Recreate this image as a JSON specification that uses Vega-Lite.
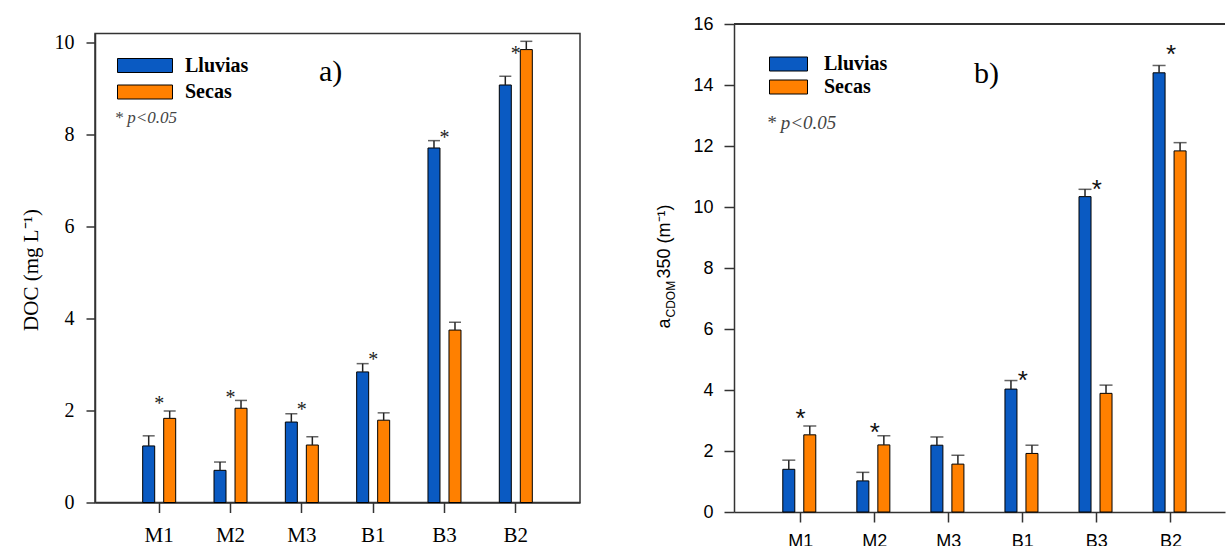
{
  "$schema": "https://vega.github.io/schema/vega-lite/v6.json",
  "background": "white",
  "padding": {"left": 19, "top": 15, "right": 0, "bottom": 0},
  "bounds": "flush",
  "center": true,
  "spacing": 154,
  "resolve": {"scale": {"color": "independent"}},
  "datasets": {
    "doc": [
      {"site": "M1", "season": "Lluvias", "value": 1.23, "upper": 1.45},
      {"site": "M1", "season": "Secas", "value": 1.83, "upper": 1.99},
      {"site": "M2", "season": "Lluvias", "value": 0.70, "upper": 0.88},
      {"site": "M2", "season": "Secas", "value": 2.05, "upper": 2.22},
      {"site": "M3", "season": "Lluvias", "value": 1.75, "upper": 1.93},
      {"site": "M3", "season": "Secas", "value": 1.25, "upper": 1.43},
      {"site": "B1", "season": "Lluvias", "value": 2.84, "upper": 3.02},
      {"site": "B1", "season": "Secas", "value": 1.79, "upper": 1.95},
      {"site": "B3", "season": "Lluvias", "value": 7.71, "upper": 7.87},
      {"site": "B3", "season": "Secas", "value": 3.75, "upper": 3.92},
      {"site": "B2", "season": "Lluvias", "value": 9.08, "upper": 9.27},
      {"site": "B2", "season": "Secas", "value": 9.85, "upper": 10.03}
    ],
    "doc_sig": [
      {"site": "M1", "star": 2.25},
      {"site": "M2", "star": 2.38},
      {"site": "M3", "star": 2.13},
      {"site": "B1", "star": 3.2},
      {"site": "B3", "star": 8.04},
      {"site": "B2", "star": 9.87}
    ],
    "acdom": [
      {"site": "M1", "season": "Lluvias", "value": 1.40, "upper": 1.70},
      {"site": "M1", "season": "Secas", "value": 2.53, "upper": 2.82},
      {"site": "M2", "season": "Lluvias", "value": 1.02, "upper": 1.30},
      {"site": "M2", "season": "Secas", "value": 2.20, "upper": 2.50},
      {"site": "M3", "season": "Lluvias", "value": 2.19, "upper": 2.46},
      {"site": "M3", "season": "Secas", "value": 1.57, "upper": 1.86},
      {"site": "B1", "season": "Lluvias", "value": 4.03, "upper": 4.31},
      {"site": "B1", "season": "Secas", "value": 1.92, "upper": 2.19},
      {"site": "B3", "season": "Lluvias", "value": 10.34, "upper": 10.58},
      {"site": "B3", "season": "Secas", "value": 3.89, "upper": 4.16},
      {"site": "B2", "season": "Lluvias", "value": 14.40, "upper": 14.64},
      {"site": "B2", "season": "Secas", "value": 11.84, "upper": 12.11}
    ],
    "acdom_sig": [
      {"site": "M1", "star": 3.27},
      {"site": "M2", "star": 2.83},
      {"site": "B1", "star": 4.52},
      {"site": "B3", "star": 10.79},
      {"site": "B2", "star": 15.2}
    ]
  },
  "config": {
    "view": {"stroke": null},
    "axis": {"grid": false, "domainColor": "#333333", "tickColor": "#333333", "domainWidth": 1.5, "tickWidth": 1.5, "labelColor": "black", "titleColor": "black"}
  },
  "hconcat": [
    {
      "width": 485,
      "height": 469,
      "view": {"stroke": "#333333", "strokeWidth": 1.5},
      "title": {"text": "a)", "anchor": "start", "frame": "group", "orient": "top", "font": "Liberation Serif", "fontSize": 30, "fontWeight": "normal", "color": "black", "baseline": "alphabetic", "offset": 0, "dx": 224, "dy": 78},
      "layer": [
        {
          "data": {"name": "doc"},
          "mark": {"type": "bar", "stroke": "black", "strokeWidth": 1, "opacity": 1},
          "encoding": {
            "x": {"field": "site", "type": "nominal", "sort": ["M1", "M2", "M3", "B1", "B3", "B2"], "scale": {"paddingInner": 0, "paddingOuter": 0.4},
              "axis": {"title": null, "labelAngle": 0, "labelFont": "Liberation Serif", "labelFontSize": 21, "tickSize": 10, "labelPadding": 12}},
            "xOffset": {"field": "season", "type": "nominal", "scale": {"paddingInner": 0.4286, "paddingOuter": 0.912}},
            "y": {"field": "value", "type": "quantitative", "scale": {"domain": [0, 10.2], "nice": false},
              "axis": {"title": "DOC (mg L⁻¹)", "values": [0, 2, 4, 6, 8, 10], "tickSize": 9, "labelPadding": 12, "labelFont": "Liberation Serif", "labelFontSize": 20, "titleFont": "Liberation Serif", "titleFontSize": 21, "titleFontWeight": "normal", "titleAngle": -90, "titleAlign": "center", "titleBaseline": "alphabetic", "titleX": -58, "titleY": 236}},
            "color": {"field": "season", "type": "nominal", "scale": {"domain": ["Lluvias", "Secas"], "range": ["#0A5AC2", "#FF8000"]},
              "legend": {"orient": "none", "legendX": 19.5, "legendY": 22, "padding": 0, "title": "* p<0.05", "titleOrient": "bottom", "titleAnchor": "start", "titleFont": "Liberation Serif", "titleFontStyle": "italic", "titleFontWeight": "normal", "titleFontSize": 17, "titleColor": "#444444", "titlePadding": 7.5,
                "labelFont": "Liberation Serif", "labelFontWeight": "bold", "labelFontSize": 20, "labelColor": "black", "labelOffset": 50.5,
                "symbolType": "M-1,-1H6.857V1H-1Z", "symbolSize": 196, "symbolStrokeColor": "black", "symbolStrokeWidth": 1, "symbolOpacity": 1, "rowPadding": 6.5}}
          }
        },
        {
          "data": {"name": "doc"},
          "mark": {"type": "rule", "color": "#222222", "strokeWidth": 1.5},
          "encoding": {
            "x": {"field": "site", "type": "nominal", "sort": ["M1", "M2", "M3", "B1", "B3", "B2"]},
            "xOffset": {"field": "season", "type": "nominal"},
            "y": {"field": "value", "type": "quantitative"},
            "y2": {"field": "upper"}
          }
        },
        {
          "data": {"name": "doc"},
          "mark": {"type": "tick", "color": "#222222", "thickness": 1.5, "size": 12, "orient": "horizontal"},
          "encoding": {
            "x": {"field": "site", "type": "nominal", "sort": ["M1", "M2", "M3", "B1", "B3", "B2"]},
            "xOffset": {"field": "season", "type": "nominal"},
            "y": {"field": "upper", "type": "quantitative"}
          }
        },
        {
          "data": {"name": "doc_sig"},
          "mark": {"type": "text", "text": "*", "font": "Liberation Serif", "fontSize": 20, "color": "#222222", "baseline": "alphabetic", "dy": 11},
          "encoding": {
            "x": {"field": "site", "type": "nominal", "sort": ["M1", "M2", "M3", "B1", "B3", "B2"]},
            "y": {"field": "star", "type": "quantitative"}
          }
        }
      ]
    },
    {
      "width": 491,
      "height": 488,
      "title": {"text": "b)", "anchor": "start", "frame": "group", "orient": "top", "font": "Liberation Serif", "fontSize": 30, "fontWeight": "normal", "color": "black", "baseline": "alphabetic", "offset": 0, "dx": 240, "dy": 98},
      "resolve": {"axis": {"y": "independent"}},
      "layer": [
        {
          "data": {"name": "acdom"},
          "mark": {"type": "bar", "stroke": "black", "strokeWidth": 1, "opacity": 1},
          "encoding": {
            "x": {"field": "site", "type": "nominal", "sort": ["M1", "M2", "M3", "B1", "B3", "B2"], "scale": {"paddingInner": 0, "paddingOuter": 0.315, "align": 0.635},
              "axis": {"title": null, "labelAngle": 0, "labelFont": "Liberation Sans", "labelFontSize": 18, "tickSize": 10, "labelPadding": 10}},
            "xOffset": {"field": "season", "type": "nominal", "scale": {"paddingInner": 0.422, "paddingOuter": 0.856}},
            "y": {"field": "value", "type": "quantitative", "scale": {"domain": [0, 16], "nice": false},
              "axis": {"orient": "left", "values": [0, 2, 4, 6, 8, 10, 12, 14, 16], "tickSize": 10, "labelPadding": 11, "labelFont": "Liberation Sans", "labelFontSize": 18,
                "title": "350 (m⁻¹)", "titleFont": "Liberation Sans", "titleFontSize": 18, "titleFontWeight": "normal", "titleAngle": -90, "titleAlign": "left", "titleBaseline": "alphabetic", "titleX": -65, "titleY": 254}},
            "color": {"field": "season", "type": "nominal", "scale": {"domain": ["Lluvias", "Secas"], "range": ["#0A5AC2", "#FF8000"]},
              "legend": {"orient": "none", "legendX": 32.5, "legendY": 30, "padding": 0, "title": "* p<0.05", "titleOrient": "bottom", "titleAnchor": "start", "titleFont": "Liberation Serif", "titleFontStyle": "italic", "titleFontWeight": "normal", "titleFontSize": 19, "titleColor": "#444444", "titlePadding": 17,
                "labelFont": "Liberation Serif", "labelFontWeight": "bold", "labelFontSize": 20, "labelColor": "black", "labelOffset": 37.5,
                "symbolType": "M-1,-1H4.43V1H-1Z", "symbolSize": 196, "symbolStrokeColor": "black", "symbolStrokeWidth": 1, "symbolOpacity": 1, "rowPadding": 3}}
          }
        },
        {
          "data": {"name": "acdom"},
          "mark": {"type": "rule", "color": "#222222", "strokeWidth": 1.5},
          "encoding": {
            "x": {"field": "site", "type": "nominal", "sort": ["M1", "M2", "M3", "B1", "B3", "B2"]},
            "xOffset": {"field": "season", "type": "nominal"},
            "y": {"field": "value", "type": "quantitative",
              "axis": {"orient": "left", "labels": false, "ticks": false, "domain": false, "title": "a", "titleFont": "Liberation Sans", "titleFontSize": 18, "titleFontWeight": "normal", "titleAngle": -90, "titleAlign": "left", "titleBaseline": "alphabetic", "titleX": -65, "titleY": 304}},
            "y2": {"field": "upper"}
          }
        },
        {
          "data": {"name": "acdom"},
          "mark": {"type": "tick", "color": "#222222", "thickness": 1.5, "size": 13, "orient": "horizontal"},
          "encoding": {
            "x": {"field": "site", "type": "nominal", "sort": ["M1", "M2", "M3", "B1", "B3", "B2"]},
            "xOffset": {"field": "season", "type": "nominal"},
            "y": {"field": "upper", "type": "quantitative", "axis": null}
          }
        },
        {
          "data": {"name": "acdom_sig"},
          "mark": {"type": "text", "text": "*", "font": "Liberation Sans", "fontSize": 26, "color": "#111111", "baseline": "alphabetic", "dy": 15},
          "encoding": {
            "x": {"field": "site", "type": "nominal", "sort": ["M1", "M2", "M3", "B1", "B3", "B2"]},
            "y": {"field": "star", "type": "quantitative",
              "axis": {"orient": "left", "labels": false, "ticks": false, "domain": false, "title": "CDOM", "titleFont": "Liberation Sans", "titleFontSize": 12, "titleFontWeight": "normal", "titleAngle": -90, "titleAlign": "left", "titleBaseline": "alphabetic", "titleX": -60, "titleY": 293}}
          }
        },
        {
          "data": {"name": "acdom_sig"},
          "mark": {"type": "rule", "color": "#333333", "strokeWidth": 1.5},
          "encoding": {
            "y": {"datum": 16, "type": "quantitative", "axis": null}
          }
        }
      ]
    }
  ]
}
